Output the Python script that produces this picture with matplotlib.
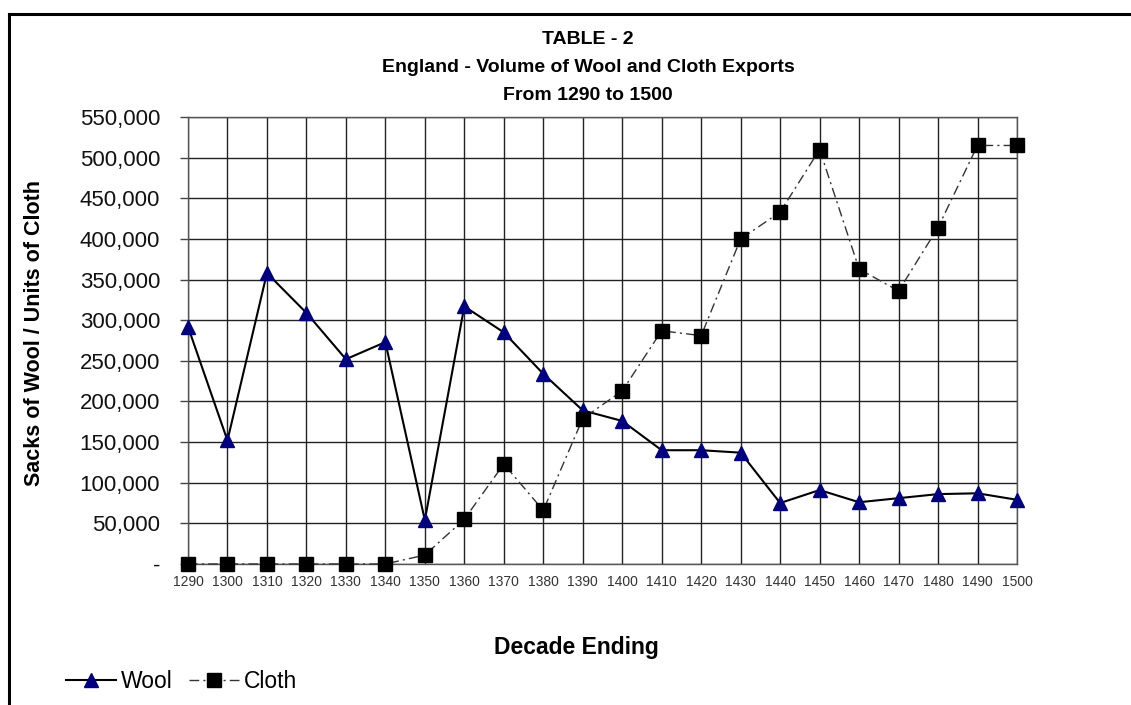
import matplotlib.pyplot as plt
import matplotlib.ticker as mticker
from matplotlib.lines import Line2D

# data
decades = [1290, 1300, 1310, 1320, 1330, 1340, 1350, 1360, 1370, 1380, 1390,
           1400, 1410, 1420, 1430, 1440, 1450, 1460, 1470, 1480, 1490, 1500]
wool = [292000, 152000, 358000, 309000, 252000, 273000, 54000, 317000, 285000, 234000, 189000,
        176000, 140000, 140000, 137000, 75000, 91000, 76000, 81000, 86000, 87000, 79000]
cloth = [0, 0, 0, 0, 0, 0, 11000, 55000, 123000, 66000, 179000,
         213000, 287000, 281000, 400000, 433000, 510000, 363000, 336000, 414000, 515000, 515000]
title_lines = ['TABLE - 2', 'England - Volume of Wool and Cloth Exports', 'From 1290 to 1500']

plt.rcParams['font.family'] = ['Liberation Sans', 'DejaVu Sans']

fig = plt.figure(figsize=(11.31, 7.05), dpi=100)
ax = fig.add_axes([0.1662, 0.2, 0.733, 0.634])

x = list(range(len(decades)))
ax.plot(x, wool, color='black', lw=1.5, marker='^', markersize=10,
        markerfacecolor='#000080', markeredgecolor='#000080', label='Wool', zorder=3, clip_on=False)
ax.plot(x, cloth, color='#333333', lw=1, dashes=[7, 3, 1.5, 3], marker='s', markersize=10,
        markerfacecolor='black', markeredgecolor='black', label='Cloth', zorder=4, clip_on=False)

ax.set_xlim(0, len(decades) - 1)
ax.set_ylim(0, 550000)
ax.set_xticks(x)
ax.set_xticklabels([str(d) for d in decades], fontsize=10, color='#333333')
ax.set_yticks(range(0, 550001, 50000))
ax.yaxis.set_major_formatter(mticker.FuncFormatter(lambda v, p: '-' if v == 0 else f'{int(v):,}'))
ax.tick_params(axis='y', labelsize=16, length=6, width=1, color='#444444', pad=14)
ax.tick_params(axis='x', length=0, pad=8)
for lbl in ax.get_yticklabels():
    lbl.set_color('#111111')

ax.grid(True, color='#222222', lw=1)
ax.set_axisbelow(True)
for s in ax.spines.values():
    s.set_color('#555555')
    s.set_linewidth(1)

ax.set_ylabel('Sacks of Wool / Units of Cloth', fontsize=15.5, fontweight='bold')
ax.yaxis.set_label_coords(-0.172, 0.517)
ax.set_xlabel('Decade Ending', fontsize=16.5, fontweight='bold')
ax.xaxis.set_label_coords(0.468, -0.16)

for i, t in enumerate(title_lines):
    fig.text(0.52, 1 - (40 + 28 * i) / 705, t, ha='center', va='center',
             fontsize=14, fontweight='bold')

leg = fig.legend(loc='lower left', bbox_to_anchor=(0.04, -0.012), ncol=2, frameon=False,
                 fontsize=16.5, handlelength=2.2, columnspacing=0.7, handletextpad=0.2)

# outer frame (only top and left edges visible)
fig.add_artist(Line2D([0.008, 1.0], [0.980, 0.980], color='black', lw=2.2))
fig.add_artist(Line2D([0.008, 0.008], [0.0, 0.980], color='black', lw=2.2))

fig.savefig('out.png', dpi=100)
